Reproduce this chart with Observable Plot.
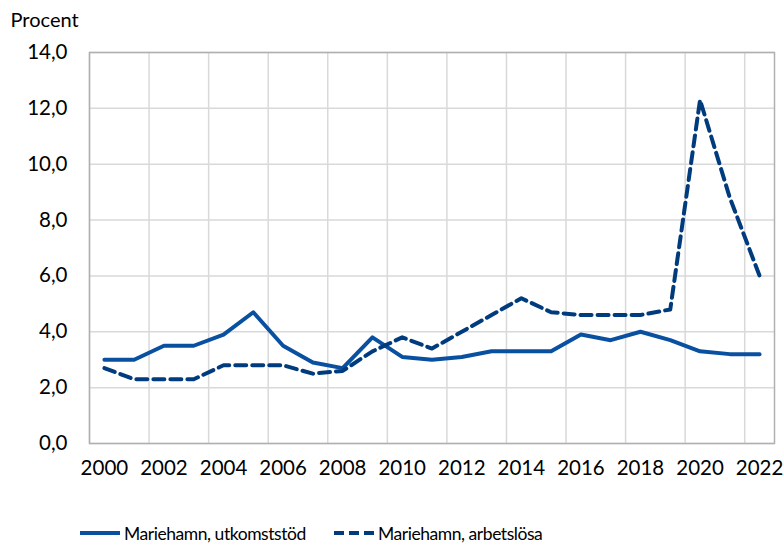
<!DOCTYPE html>
<html>
<head>
<meta charset="utf-8">
<script src="https://cdn.jsdelivr.net/npm/d3@7"></script>
<script src="https://cdn.jsdelivr.net/npm/@observablehq/plot@0.6"></script>
<style>
  body { margin: 0; background: #fff; font-family: Lato, sans-serif; }
  #legend { position: relative; height: 54px; font-family: Lato, sans-serif; font-size: 17.5px; letter-spacing: -0.45px; color: #000; }
  .item { position: absolute; top: 31px; height: 24px; display: flex; align-items: center; white-space: nowrap; }
  .item svg { margin-right: 4px; }
</style>
</head>
<body>
<div id="chart"></div>
<div id="legend"></div>
<script>
const years = d3.range(2000, 2023);
const utkomststod = [3.0, 3.0, 3.5, 3.5, 3.9, 4.7, 3.5, 2.9, 2.7, 3.8, 3.1, 3.0, 3.1, 3.3, 3.3, 3.3, 3.9, 3.7, 4.0, 3.7, 3.3, 3.2, 3.2];
const arbetslosa  = [2.7, 2.3, 2.3, 2.3, 2.8, 2.8, 2.8, 2.5, 2.6, 3.3, 3.8, 3.4, 4.0, 4.6, 5.2, 4.7, 4.6, 4.6, 4.6, 4.8, 12.3, 8.8, 6.0];
const seriesNames = ["Mariehamn, utkomststöd", "Mariehamn, arbetslösa"];
const xTickLabels = d3.range(2000, 2023, 2);
const yTicks = d3.range(0, 15, 2);
const xGrid = d3.range(1999.5, 2022, 2);
const colors = ["#0a50a1", "#003c7d"];

const s1 = years.map((y, i) => ({year: y, value: utkomststod[i]}));
const s2 = years.map((y, i) => ({year: y, value: arbetslosa[i]}));
const fmt = v => d3.format(".1f")(v).replace(".", ",");

const chart = Plot.plot({
  width: 784,
  height: 490,
  marginLeft: 89,
  marginRight: 10,
  marginTop: 52,
  marginBottom: 47,
  style: {fontFamily: "Lato, sans-serif", fontSize: "20.5px", color: "#000", background: "#fff"},
  x: {domain: [1999.5, 2022.5], ticks: xTickLabels, tickFormat: d => String(d), tickSize: 0, tickPadding: 17, label: null},
  y: {domain: [0, 14], ticks: yTicks, tickFormat: fmt, tickSize: 0, tickPadding: 22, label: null},
  marks: [
    Plot.gridY(yTicks, {stroke: "#d9d9d9", strokeOpacity: 1, strokeWidth: 1.5}),
    Plot.ruleX(xGrid, {stroke: "#d9d9d9", strokeWidth: 1.5}),
    Plot.frame({stroke: "#b0b0b0", strokeWidth: 1.5}),
    Plot.line(s1, {x: "year", y: "value", stroke: colors[0], strokeWidth: 4, strokeLinejoin: "round"}),
    Plot.line(s2, {x: "year", y: "value", stroke: colors[1], strokeWidth: 4, strokeDasharray: "11,6", strokeLinejoin: "round"}),
    Plot.text(["Procent"], {frameAnchor: "top-left", dx: -79, dy: -32, textAnchor: "start", lineAnchor: "middle", fontSize: 20, fill: "#000"})
  ]
});
document.getElementById("chart").appendChild(chart);

const legend = document.getElementById("legend");
const items = [
  {left: 80, dash: null, color: colors[0]},
  {left: 334, dash: "10,5", color: colors[1]}
];
items.forEach((it, i) => {
  const div = document.createElement("div");
  div.className = "item";
  div.style.left = it.left + "px";
  div.innerHTML = `<svg width="40" height="10"><line x1="0" x2="40" y1="5" y2="5" stroke="${it.color}" stroke-width="4" ${it.dash ? `stroke-dasharray="${it.dash}"` : ""}/></svg><span>${seriesNames[i]}</span>`;
  legend.appendChild(div);
});
</script>
</body>
</html>
